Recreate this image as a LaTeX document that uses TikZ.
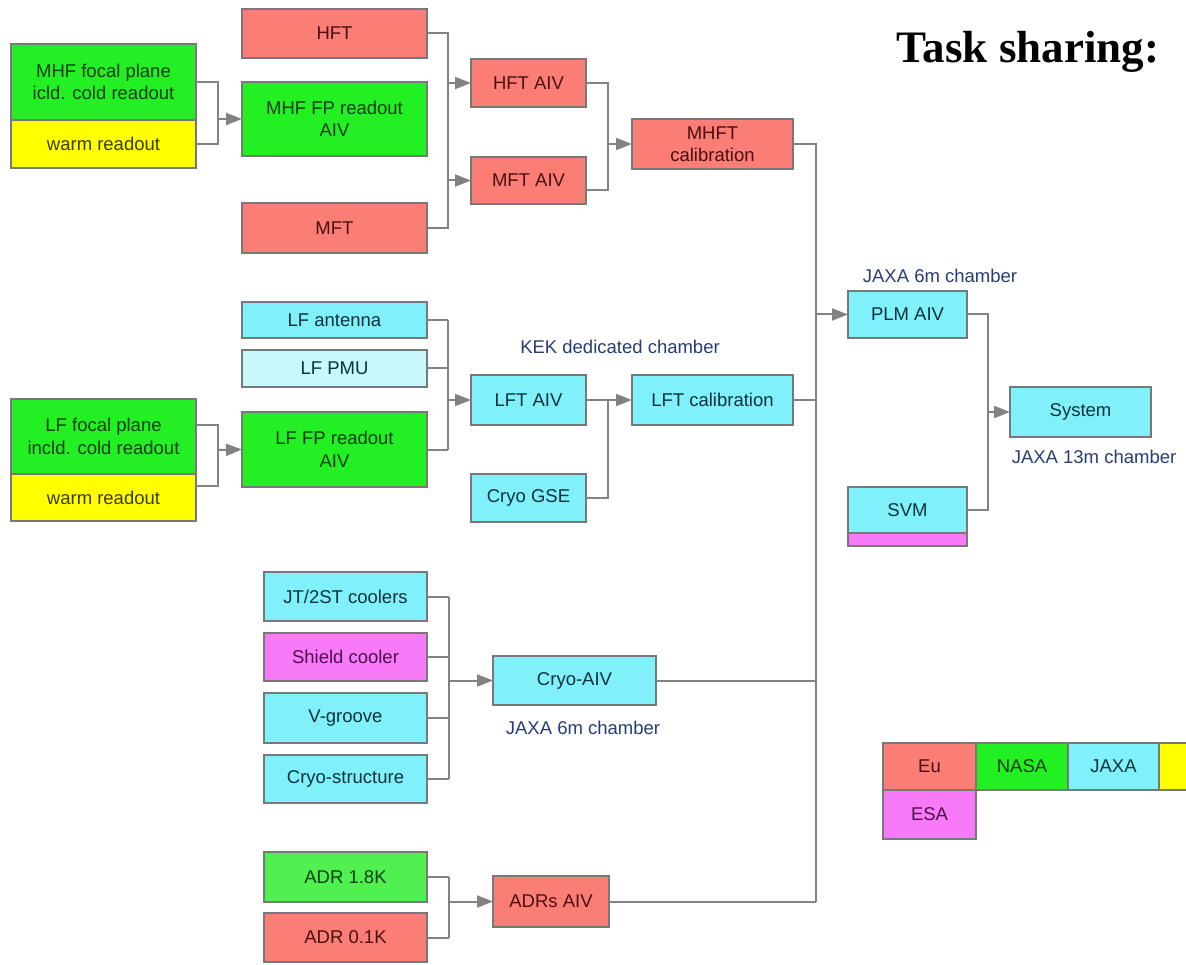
\documentclass[tikz,border=0pt]{standalone}
\usepackage{fontspec}
\setmainfont{Liberation Sans}
\newfontfamily\titlefont{Liberation Serif}
\usetikzlibrary{arrows.meta,calc}
\definecolor{eu}{RGB}{250,125,118}
\definecolor{nasa}{RGB}{35,240,35}
\definecolor{nasalt}{RGB}{80,240,80}
\definecolor{jaxa}{RGB}{128,240,250}
\definecolor{jaxalt}{RGB}{200,248,250}
\definecolor{csa}{RGB}{255,255,0}
\definecolor{esa}{RGB}{248,122,248}
\definecolor{eutxt}{RGB}{75,15,15}
\definecolor{nasatxt}{RGB}{15,60,15}
\definecolor{jaxatxt}{RGB}{10,50,62}
\definecolor{esatxt}{RGB}{75,15,75}
\definecolor{csatxt}{RGB}{60,60,0}
\definecolor{boxgray}{RGB}{120,120,120}
\definecolor{linegray}{RGB}{130,130,130}
\definecolor{labelblue}{RGB}{40,60,120}
\tikzset{
  box/.style={draw=boxgray, line width=1.5pt, inner sep=0pt, outer sep=0pt,
    align=center, font=\fontsize{18.5}{22.5}\selectfont},
  eubox/.style={box, fill=eu, text=eutxt},
  nasabox/.style={box, fill=nasa, text=nasatxt},
  jaxabox/.style={box, fill=jaxa, text=jaxatxt},
  esabox/.style={box, fill=esa, text=esatxt},
  csabox/.style={box, fill=csa, text=csatxt},
  link/.style={draw=linegray, line width=2pt},
  arr/.style={link, -{Triangle[length=16pt,width=12pt]}},
  chamber/.style={text=labelblue, inner sep=0pt, font=\fontsize{18.5}{22}\selectfont}
}
\begin{document}
\begin{tikzpicture}[x=1pt,y=-1pt]
\useasboundingbox (0,0) rectangle (1186,965);
\fill[white] (0,0) rectangle (1186,965);

% ---------- MHF branch ----------
\node[nasabox, minimum width=185, minimum height=76] (mhffp) at (103.5,82) {MHF focal plane\\icld. cold readout};
\node[csabox, minimum width=185, minimum height=48] (mhfwarm) at (103.5,144) {warm readout};
\node[eubox, minimum width=185, minimum height=49] (hft) at (334.5,33.5) {HFT};
\node[nasabox, minimum width=185, minimum height=74] (mhfaiv) at (334.5,119) {MHF FP readout\\AIV};
\node[eubox, minimum width=185, minimum height=50] (mft) at (334.5,228) {MFT};
\node[eubox, minimum width=115, minimum height=48] (hftaiv) at (528.5,83) {HFT AIV};
\node[eubox, minimum width=115, minimum height=47] (mftaiv) at (528.5,180.5) {MFT AIV};
\node[eubox, minimum width=161, minimum height=50] (mhftcal) at (712.5,144) {MHFT\\calibration};

% ---------- LF branch ----------
\node[jaxabox, minimum width=185, minimum height=36] (lfant) at (334.5,320) {LF antenna};
\node[box, fill=jaxalt, text=jaxatxt, minimum width=185, minimum height=37] (lfpmu) at (334.5,368.5) {LF PMU};
\node[nasabox, minimum width=185, minimum height=75] (lfaiv) at (334.5,449.5) {LF FP readout\\AIV};
\node[nasabox, minimum width=185, minimum height=75] (lffp) at (103.5,436.5) {LF focal plane\\incld. cold readout};
\node[csabox, minimum width=185, minimum height=47] (lfwarm) at (103.5,497.5) {warm readout};
\node[jaxabox, minimum width=115, minimum height=50] (lftaiv) at (528.5,400) {LFT AIV};
\node[jaxabox, minimum width=115, minimum height=48] (cryogse) at (528.5,498) {Cryo GSE};
\node[jaxabox, minimum width=161, minimum height=50] (lftcal) at (712.5,400) {LFT calibration};
\node[chamber] (kek) at (620,347) {KEK dedicated chamber};

% ---------- Cryo branch ----------
\node[jaxabox, minimum width=163, minimum height=49] (jt) at (345.5,596.5) {JT/2ST coolers};
\node[esabox, minimum width=163, minimum height=48] (shield) at (345.5,657) {Shield cooler};
\node[jaxabox, minimum width=163, minimum height=50] (vgroove) at (345.5,718) {V-groove};
\node[jaxabox, minimum width=163, minimum height=48] (cryostruct) at (345.5,779) {Cryo-structure};
\node[jaxabox, minimum width=163, minimum height=49] (cryoaiv) at (574.5,680.5) {Cryo-AIV};
\node[chamber] (cryolab) at (583,728) {JAXA 6m chamber};

% ---------- ADR branch ----------
\node[box, fill=nasalt, text=nasatxt, minimum width=163, minimum height=50] (adr18) at (345.5,877) {ADR 1.8K};
\node[eubox, minimum width=163, minimum height=49] (adr01) at (345.5,937.5) {ADR 0.1K};
\node[eubox, minimum width=116, minimum height=51] (adrsaiv) at (551,901.5) {ADRs AIV};

% ---------- PLM / system ----------
\node[jaxabox, minimum width=119, minimum height=47] (plm) at (907.5,314.5) {PLM AIV};
\node[chamber] (plmlab) at (940,276) {JAXA 6m chamber};
\node[jaxabox, minimum width=119, minimum height=46] (svm) at (907.5,510) {SVM};
\node[esabox, minimum width=119, minimum height=13, anchor=north] (svmstrip) at (svm.south) {};
\node[jaxabox, minimum width=141, minimum height=50] (system) at (1080.5,412) {System};
\node[chamber] (syslab) at (1094,457) {JAXA 13m chamber};

% ---------- title ----------
\node[inner sep=0pt, font=\titlefont\bfseries\fontsize{45}{50}\selectfont] (title) at (1028,52) {Task sharing:};

% ---------- legend ----------
\begin{scope}
\clip (0,0) rectangle (1186,965);
\node[eubox, minimum width=93, minimum height=47] (legeu) at (929.5,766.5) {Eu};
\node[nasabox, minimum width=92, minimum height=47] (legnasa) at (1022,766.5) {NASA};
\node[jaxabox, minimum width=91, minimum height=47] (legjaxa) at (1113.5,766.5) {JAXA};
\node[csabox, minimum width=93, minimum height=47] (legcsa) at (1205.5,766.5) {};
\node[esabox, minimum width=93, minimum height=49] (legesa) at (929.5,814.5) {ESA};
\end{scope}

% ---------- junction coordinates ----------
\coordinate (jmhf) at (218,119);
\coordinate (jlf) at (218,450);
\coordinate (jhtop) at (448,83);
\coordinate (jhbot) at (448,180.5);
\coordinate (jlftop) at (448,320);
\coordinate (jlfmid) at (448,400);
\coordinate (jlfbot) at (448,449.5);
\coordinate (jmhft) at (608,144);
\coordinate (jlft) at (608,400);
\coordinate (jctop) at (449,596.5);
\coordinate (jcmid) at (449,680.5);
\coordinate (jcbot) at (449,779);
\coordinate (jatop) at (449,877);
\coordinate (jamid) at (449,901.5);
\coordinate (jabot) at (449,937.5);
\coordinate (busbot) at (816,901.5);
\coordinate (jsys) at (988,412);

% ---------- connectors ----------
% MHF focal plane -> MHF FP readout AIV
\draw[link] (mhffp.east) -| (jmhf);
\draw[link] (mhfwarm.east) -| (jmhf);
\draw[arr] (jmhf) -- (mhfaiv.west);
% HFT / MHF FP / MFT -> HFT AIV, MFT AIV
\draw[link] (hft.east) -| (jhtop);
\draw[link] ($(mhfaiv.east)+(0,-12)$) -- ($(mhfaiv.east)+(0,-12)$ -| jhtop);
\draw[link] (mft.east) -| (jhbot);
\draw[link] (jhtop) -- (jhbot);
\draw[arr] (jhtop) -- (hftaiv.west);
\draw[arr] (jhbot) -- (mftaiv.west);
% HFT AIV / MFT AIV -> MHFT calibration
\draw[link] (hftaiv.east) -| (jmhft);
\draw[link] ($(mftaiv.east)+(0,10)$) -| (jmhft);
\draw[arr] (jmhft) -- (mhftcal.west);
% LF focal plane -> LF FP readout AIV
\draw[link] ($(lffp.east)+(0,-11.5)$) -| (jlf);
\draw[link] ($(lfwarm.east)+(0,-11.5)$) -| (jlf);
\draw[arr] (jlf) -- (lfaiv.west);
% LF antenna / PMU / FP readout -> LFT AIV
\draw[link] (lfant.east) -- (jlftop);
\draw[link] (lfpmu.east) -- (lfpmu.east -| jlftop);
\draw[link] (lfaiv.east) -- (jlfbot);
\draw[link] (jlftop) -- (jlfbot);
\draw[arr] (jlfmid) -- (lftaiv.west);
% LFT AIV / Cryo GSE -> LFT calibration
\draw[link] (lftaiv.east) -- (jlft);
\draw[link] (cryogse.east) -| (jlft);
\draw[arr] (jlft) -- (lftcal.west);
% coolers -> Cryo-AIV
\draw[link] (jt.east) -- (jctop);
\draw[link] (shield.east) -- (shield.east -| jctop);
\draw[link] (vgroove.east) -- (vgroove.east -| jctop);
\draw[link] (cryostruct.east) -- (jcbot);
\draw[link] (jctop) -- (jcbot);
\draw[arr] (jcmid) -- (cryoaiv.west);
% ADRs -> ADRs AIV
\draw[link] (adr18.east) -- (jatop);
\draw[link] (adr01.east) -- (jabot);
\draw[link] (jatop) -- (jabot);
\draw[arr] (jamid) -- (adrsaiv.west);
% bus -> PLM AIV
\draw[link] (mhftcal.east) -| (busbot);
\draw[link] (lftcal.east) -- (lftcal.east -| busbot);
\draw[link] (cryoaiv.east) -- (cryoaiv.east -| busbot);
\draw[link] (adrsaiv.east) -- (busbot);
\draw[arr] (plm.west -| busbot) -- (plm.west);
% PLM AIV / SVM -> System
\draw[link] (plm.east) -| (jsys);
\draw[link] (svm.east) -| (jsys);
\draw[arr] (jsys) -- (system.west);
\end{tikzpicture}
\end{document}
